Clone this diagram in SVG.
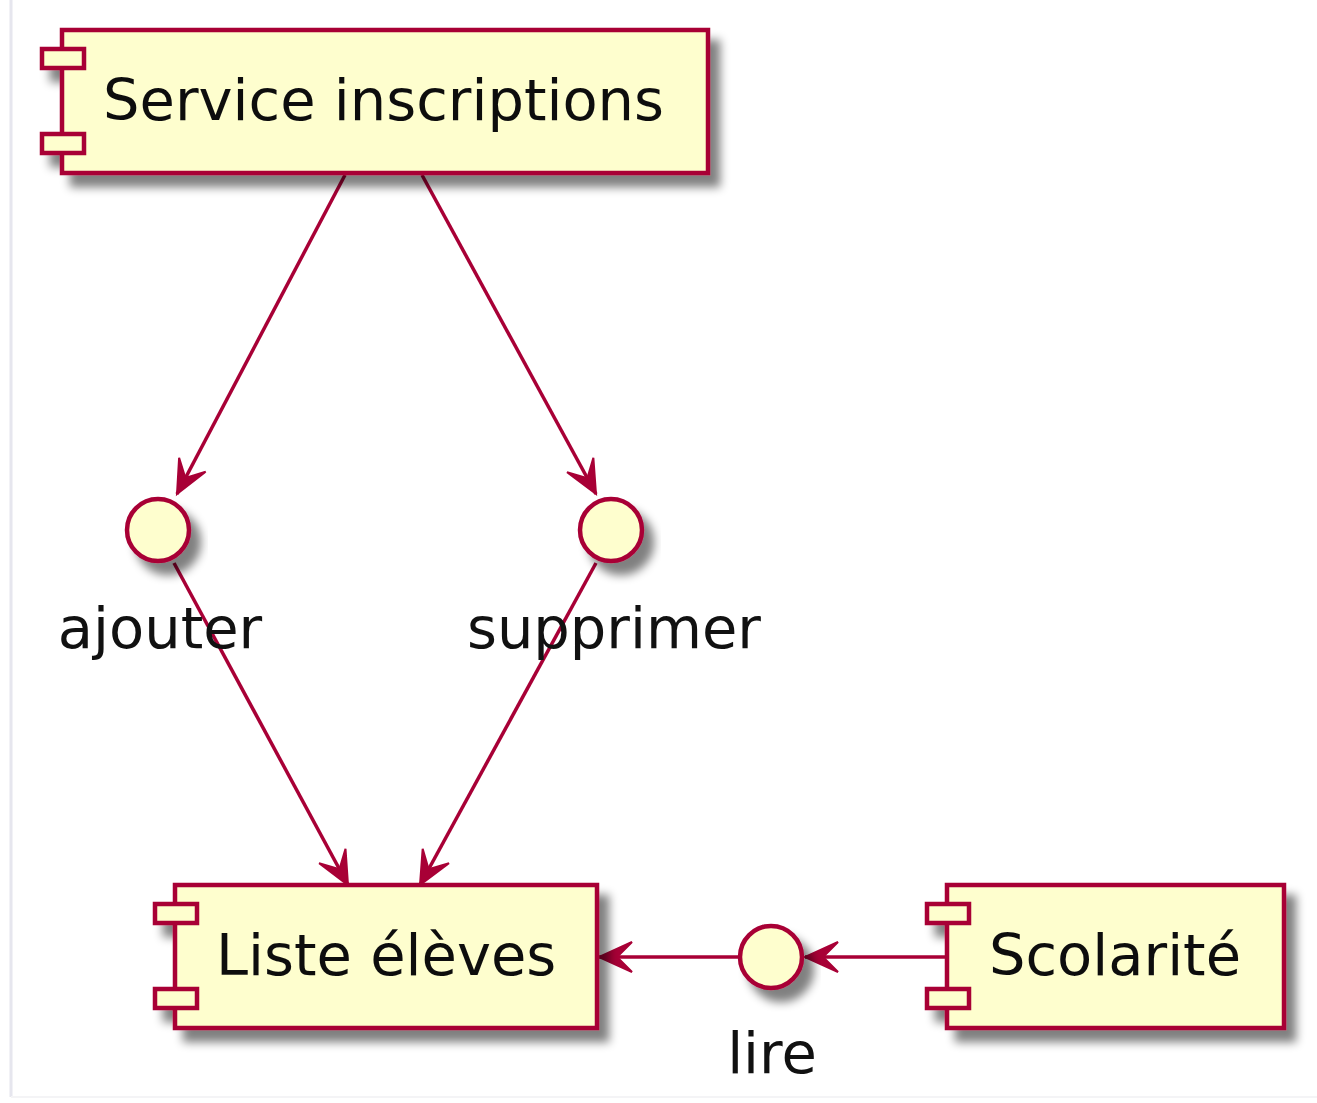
<svg xmlns="http://www.w3.org/2000/svg" width="1317" height="1103" viewBox="0 0 1317 1103">
  <style>
    .box { fill: #FEFECE; stroke: #A80036; stroke-width: 4.5; }
    .port { fill: #FEFECE; stroke: #A80036; stroke-width: 4.5; }
    .iface { fill: #FEFECE; stroke: #A80036; stroke-width: 4.5; }
    .label { font-family: "DejaVu Sans", "Liberation Sans", sans-serif; font-size: 57.5px; fill: #111111; }
    .edge { stroke: #A80036; stroke-width: 3.5; fill: none; }
  </style>
  <defs>
    <filter id="shadow" x="-20%" y="-20%" width="150%" height="160%">
      <feGaussianBlur in="SourceAlpha" stdDeviation="5" result="blur"/>
      <feOffset in="blur" dx="10" dy="12" result="off"/>
      <feComponentTransfer in="off" result="soft">
        <feFuncA type="linear" slope="0.5"/>
      </feComponentTransfer>
      <feMerge>
        <feMergeNode in="soft"/>
        <feMergeNode in="SourceGraphic"/>
      </feMerge>
    </filter>
    <marker id="arrow" markerUnits="userSpaceOnUse" viewBox="-36 -18 40 36" markerWidth="40" markerHeight="36" refX="0" refY="0" orient="auto">
      <path d="M0,0 L-33,-15 L-18,0 L-33,15 Z" fill="#A80036" stroke="#A80036" stroke-width="2"/>
    </marker>
  </defs>

  <rect x="0" y="0" width="1317" height="1103" fill="#FFFFFF"/>
  <!-- page frame -->
  <line x1="11" y1="0" x2="11" y2="1097" stroke="#E6E6EE" stroke-width="3"/>
  <line x1="11" y1="1097" x2="1317" y2="1097" stroke="#F4F4F6" stroke-width="2"/>

  <!-- connectors -->
  <g id="connectors">
    <line class="edge" x1="345" y1="175" x2="177" y2="494" marker-end="url(#arrow)"/>
    <line class="edge" x1="422" y1="175" x2="596" y2="494" marker-end="url(#arrow)"/>
    <line class="edge" x1="174" y1="563" x2="348" y2="885" marker-end="url(#arrow)"/>
    <line class="edge" x1="596" y1="563" x2="420" y2="885" marker-end="url(#arrow)"/>
    <line class="edge" x1="947" y1="957" x2="805" y2="957" marker-end="url(#arrow)"/>
    <line class="edge" x1="738" y1="957" x2="599" y2="957" marker-end="url(#arrow)"/>
  </g>

  <!-- component: Service inscriptions -->
  <g id="service-inscriptions" filter="url(#shadow)">
    <rect class="box" x="62" y="30" width="646" height="143"/>
    <rect class="port" x="42" y="49" width="42" height="19"/>
    <rect class="port" x="42" y="134" width="42" height="19"/>
    <text class="label" x="103" y="120">Service inscriptions</text>
  </g>

  <!-- interface: ajouter -->
  <g id="ajouter">
    <circle class="iface" cx="158" cy="530" r="31" filter="url(#shadow)"/>
    <text class="label" x="160" y="648" text-anchor="middle">ajouter</text>
  </g>

  <!-- interface: supprimer -->
  <g id="supprimer">
    <circle class="iface" cx="611" cy="530" r="31" filter="url(#shadow)"/>
    <text class="label" x="614" y="648" text-anchor="middle">supprimer</text>
  </g>

  <!-- component: Liste élèves -->
  <g id="liste-eleves" filter="url(#shadow)">
    <rect class="box" x="175" y="885" width="422" height="143"/>
    <rect class="port" x="155" y="904" width="42" height="19"/>
    <rect class="port" x="155" y="989" width="42" height="19"/>
    <text class="label" x="216" y="975">Liste élèves</text>
  </g>

  <!-- interface: lire -->
  <g id="lire">
    <circle class="iface" cx="771" cy="957" r="31" filter="url(#shadow)"/>
    <text class="label" x="772" y="1073" text-anchor="middle">lire</text>
  </g>

  <!-- component: Scolarité -->
  <g id="scolarite" filter="url(#shadow)">
    <rect class="box" x="947" y="885" width="337" height="143"/>
    <rect class="port" x="927" y="904" width="42" height="19"/>
    <rect class="port" x="927" y="989" width="42" height="19"/>
    <text class="label" x="989" y="975">Scolarité</text>
  </g>
</svg>
